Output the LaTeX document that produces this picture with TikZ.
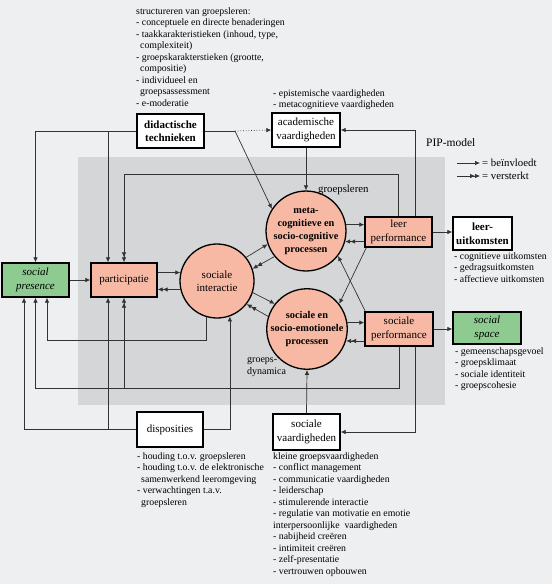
\documentclass[tikz,border=0pt]{standalone}
\usepackage{fontspec}
\setmainfont{Liberation Serif}
\usetikzlibrary{arrows.meta,calc}
\definecolor{bgout}{HTML}{EDEFF0}
\definecolor{bgin}{HTML}{D4D6D7}
\definecolor{salmon}{HTML}{F7B9A4}
\definecolor{grn}{HTML}{8ECB90}
\definecolor{ln}{HTML}{333333}
\begin{document}
\begin{tikzpicture}[x=1pt,y=-1pt,
  box/.style={draw, line width=1.4pt, fill=white, inner sep=1pt, align=center,
    font=\fontsize{11}{13.5}\selectfont},
  pbox/.style={box, fill=salmon},
  gbox/.style={box, fill=grn, font=\fontsize{11}{13.5}\selectfont\itshape},
  circ/.style={draw, line width=1.3pt, fill=salmon, circle, inner sep=0pt, align=center,
    font=\fontsize{11}{13}\selectfont},
  bcirc/.style={circ, font=\fontsize{10.3}{13}\selectfont\bfseries},
  note/.style={anchor=north west, align=left, inner sep=0pt, font=\fontsize{9.8}{11.5}\selectfont},
  lab/.style={inner sep=0pt, align=left, font=\fontsize{10.8}{12.8}\selectfont},
  con/.style={draw=ln, line width=0.7pt},
  inf/.style={con, -{Latex[length=5pt,width=4.5pt]}},
  vst/.style={con, -{Latex[length=5pt,width=4.5pt]Latex[length=5pt,width=4.5pt]}},
]
\useasboundingbox (0,0) rectangle (552,584);
\fill[bgout] (0,0) rectangle (552,584);
\fill[bgin] (78,157) rectangle (445,405);

% nodes
\node[box, font=\fontsize{11}{13.5}\selectfont\bfseries, minimum width=67pt, minimum height=34pt] (dt) at (170.5,131) {didactische\\technieken};
\node[box, minimum width=68pt, minimum height=34pt] (av) at (306,130) {academische\\vaardigheden};
\node[pbox, minimum width=67pt, minimum height=30pt] (lp) at (398.5,232) {leer\\performance};
\node[box, font=\fontsize{11}{13.5}\selectfont\bfseries, minimum width=59pt, minimum height=33pt] (lu) at (482.5,233.5) {leer-\\uitkomsten};
\node[pbox, minimum width=68pt, minimum height=34pt] (sp) at (399,329) {sociale\\performance};
\node[gbox, minimum width=68pt, minimum height=32pt] (ss) at (487,328) {social\\space};
\node[bcirc, minimum size=76pt] (mc) at (306,231) {meta-\\cognitieve en\\socio-cognitive\\processen};
\node[bcirc, minimum size=76pt] (sc) at (307,329) {sociale en\\socio-emotionele\\processen};
\node[circ, minimum size=74pt] (si) at (217,281) {sociale\\interactie};
\node[pbox, minimum width=66pt, minimum height=34pt] (pa) at (124,280) {participatie};
\node[gbox, minimum width=67pt, minimum height=34pt] (spr) at (35.5,280) {social\\presence};
\node[box, minimum width=66pt, minimum height=35pt] (di) at (170,429.5) {disposities};
\node[box, minimum width=67pt, minimum height=36pt] (sv) at (306.5,432) {sociale\\vaardigheden};

% texts
\node[note] (t1) at (136,7) {structureren van groepsleren:\\
- conceptuele en directe benaderingen\\
- taakkarakteristieken (inhoud, type,\\
\hspace*{4pt}complexiteit)\\
- groepskarakterstieken (grootte,\\
\hspace*{4pt}compositie)\\
- individueel en\\
\hspace*{4pt}groepsassessment\\
- e-moderatie};
\node[note] (t2) at (273,89) {- epistemische vaardigheden\\- metacognitieve vaardigheden};
\node[note] (t3) at (454,252) {- cognitieve uitkomsten\\- gedragsuitkomsten\\- affectieve uitkomsten};
\node[note] (t4) at (455,347) {- gemeenschapsgevoel\\- groepsklimaat\\- sociale identiteit\\- groepscohesie};
\node[note] (t5) at (137,452) {- houding t.o.v. groepsleren\\
- houding t.o.v. de elektronische\\
\hspace*{4pt}samenwerkend leeromgeving\\
- verwachtingen t.a.v.\\
\hspace*{4pt}groepsleren};
\node[note] (t6) at (273,452) {kleine groepsvaardigheden\\
- conflict management\\
- communicatie vaardigheden\\
- leiderschap\\
- stimulerende interactie\\
- regulatie van motivatie en emotie\\
interpersoonlijke\ \ vaardigheden\\
- nabijheid creëren\\
- intimiteit creëren\\
- zelf-presentatie\\
- vertrouwen opbouwen};
\node[lab, anchor=west, font=\fontsize{11.5}{13}\selectfont] (pip) at (426,143) {PIP-model};
\node[lab, anchor=west] (gl) at (318,190) {groepsleren};
\node[lab, anchor=north west, font=\fontsize{10}{12.5}\selectfont] (gd) at (247,357) {groeps-\\dynamica};
\coordinate (l1a) at (457,163);
\coordinate (l1b) at (480,163);
\coordinate (l2a) at (457,176);
\coordinate (l2b) at (480,176);
\draw[inf] (l1a) -- (l1b);
\draw[vst] (l2a) -- (l2b);
\node[lab, anchor=west] (lg1) at (482,163) {= beïnvloedt};
\node[lab, anchor=west] (lg2) at (482,176) {= versterkt};

% connectors from didactische technieken
\draw[inf] (dt.west) -| (spr.north);
\draw[inf] ([xshift=-16pt]pa.north |- dt.west) -- ([xshift=-16pt]pa.north);
\coordinate (dk) at (235,131);
\draw[con] (dt.east) -- (dk);
\draw[con, dotted, -{Latex[length=5pt,width=4.5pt]}] (dk) -- (av.west);
\draw[inf] (dk) -- (mc.147);

% academische -> meta
\draw[inf] (av.south) -- (mc.north);

% leer performance feedback
\draw[vst] (lp.north) -- ++(0,-42) -| (pa.north);
\draw[inf] ([xshift=16.5pt]lp.north) |- (av.east);
\draw[inf] (lp.east) -- (lp.east -| lu.west);

% meta <-> leer performance
\draw[inf] (mc.9) -- (mc.9 -| lp.west);
\draw[vst] (lp.west |- mc.-15) -- (mc.-15);
% sociale circle <-> sociale performance
\draw[inf] (sc.9) -- (sc.9 -| sp.west);
\draw[vst] (sp.west |- sc.-17) -- (sc.-17);
% cross
\draw[inf] ([xshift=2pt]lp.south west) -- (sc.38);
\draw[inf] ([xshift=1pt]sp.north west) -- (mc.-38);

% interactie <-> circles
\draw[inf] (si.39) -- (mc.199);
\draw[vst] (mc.219) -- (si.19);
\draw[inf] (si.-18) -- (sc.142);
\draw[vst] (sc.162) -- (si.-38);

% participatie <-> interactie
\draw[inf] (pa.east |- si.167) -- (si.167);
\draw[vst] (si.193) -- (si.193 -| pa.east);
\draw[inf] (spr.east) -- (pa.west);

% interactie -> social presence
\draw[inf] (si.254) -- (si.254 |- 0,340) -| ([xshift=11.5pt]spr.south);

% sociale performance feedback
\draw[inf] (sp.south) -- (sp.south |- 0,388) -| (spr.south);
\draw[vst] (pa.south |- 0,388) -- (pa.south);
\draw[inf] ([xshift=16pt]sp.south) |- (sv.east);
\draw[inf] (sp.east) -- (sp.east -| ss.west);

% disposities
\draw[inf] (di.west) -| ([xshift=-11.5pt]spr.south);
\draw[inf] ([xshift=-16pt]pa.south |- di.west) -- ([xshift=-16pt]pa.south);
\draw[inf] (di.east) -| (si.290);

% sociale vaardigheden -> sociale circle
\draw[inf] (sv.north) -- (sc.south);
\end{tikzpicture}
\end{document}
